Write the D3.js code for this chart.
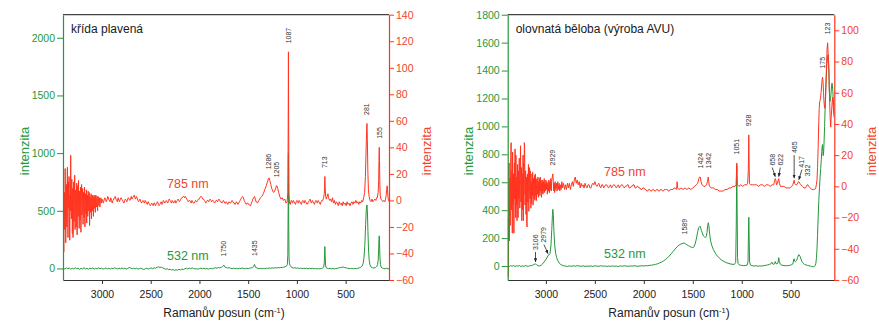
<!DOCTYPE html>
<html>
<head>
<meta charset="utf-8">
<script src="https://cdn.jsdelivr.net/npm/d3@7/dist/d3.min.js"></script>
<style>
  html, body { margin: 0; padding: 0; background: #fff; }
  svg { display: block; font-family: "Liberation Sans", Arial, sans-serif; }
</style>
</head>
<body>
<svg id="chart" width="879" height="323"></svg>
<script>
// ---------- Raman spectra: [wavenumber (cm-1), intensity] ----------

// křída plavená, 785 nm excitation (right axis)
const kridaRed = [
  [3396,-8],[3392,-39],[3389,-12],[3385,6],[3382,-22],[3378,24],[3375,2],[3372,-32],[3368,-5],[3365,12],
  [3361,-20],[3358,8],[3355,25],[3352,-9],[3349,-28],[3345,14],[3341,-6],[3338,18],[3334,-12],[3331,-30],
  [3327,4],[3324,-8],[3321,34],[3317,-2],[3314,-14],[3310,16],[3307,6],[3304,-25],[3300,9],[3297,-28],
  [3293,-4],[3290,14],[3286,-16],[3283,3],[3280,19],[3276,-22],[3272,0],[3269,8],[3265,-20],[3262,-6],
  [3259,13],[3255,-26],[3251,4],[3248,11],[3244,-12],[3241,15],[3237,-3],[3234,-21],[3230,7],[3226,-15],
  [3223,-2],[3220,10],[3216,-24],[3212,5],[3209,12],[3205,-11],[3201,0],[3198,9],[3194,-18],[3190,6],
  [3186,-4],[3183,-13],[3179,10],[3175,-20],[3171,1],[3168,5],[3164,-10],[3160,8],[3157,-17],[3153,-3],
  [3150,4],[3146,-12],[3142,7],[3138,-2],[3135,-8],[3131,6],[3127,-19],[3123,3],[3119,-4],[3116,-9],
  [3112,5],[3108,-14],[3104,1],[3100,4],[3096,-8],[3092,3],[3088,-12],[3084,0],[3080,4],[3076,-6],
  [3072,3],[3068,-9],[3063,4],[3059,-1],[3055,-5],[3050,3],[3045,-8],[3040,3],[3035,-1],[3031,-4],
  [3026,2],[3021,-5],[3016,1],[3011,2],[3006,-2],
  [3000,1],[2992,-1],[2985,-2],[2977,1],[2970,2],[2962,0],[2955,-1],[2947,1],[2940,3],[2932,1],
  [2925,0],[2917,-1],[2910,2],[2902,0],[2895,-2],[2887,0],[2880,1],[2872,2],[2865,3],[2857,1],
  [2850,0],[2842,-1],[2835,2],[2827,0],[2820,-1],[2812,1],[2805,2],[2797,1],[2790,0],[2782,-1],
  [2775,-2],[2767,0],[2760,1],[2752,0],[2745,-1],[2737,1],[2730,2],[2722,1],[2715,0],[2707,1],
  [2700,3],[2692,1],[2685,2],[2677,3],[2670,4],[2662,2],[2655,1],[2647,3],[2640,2],[2632,0],
  [2625,-1],[2617,0],[2610,1],[2602,-1],[2595,-2],[2587,-1],[2580,0],[2572,-1],[2565,-2],[2557,0],
  [2550,-1],[2542,-2],[2535,-3],[2527,-1],[2520,-2],[2512,-3],[2505,-4],[2497,-3],[2490,-2],[2482,-3],
  [2475,-4],[2467,-2],[2460,-2],[2452,-4],[2445,-3],[2437,-2],[2430,-1],[2422,-3],[2415,-4],[2407,-3],
  [2400,-2],[2392,-1],[2385,-3],[2377,-2],[2370,0],[2362,-1],[2355,-2],[2347,-1],[2340,0],[2332,-1],
  [2325,-2],[2317,0],[2310,1],[2302,0],[2295,-1],[2287,-2],[2280,0],[2272,-1],[2265,-2],[2257,-1],
  [2250,0],[2242,-2],[2235,-1],[2227,0],[2220,1],[2212,0],[2205,-1],[2197,0],[2190,1],[2182,2],
  [2175,2],[2167,3],[2160,3],[2152,2],[2145,3],[2137,2],[2130,1],[2122,0],[2115,-1],[2107,0],
  [2100,0],[2092,-1],[2085,-2],[2077,0],[2070,-1],[2062,-2],[2055,-2],[2047,-1],[2040,0],[2032,-1],
  [2025,-1],[2017,0],[2010,1],[2002,1],[1995,2],[1987,3],[1980,3],[1972,2],[1965,1],[1957,1],
  [1950,0],[1942,-1],[1935,-2],[1927,-1],[1920,0],[1912,0],[1905,-1],[1897,0],[1890,1],[1882,0],
  [1875,-1],[1867,0],[1860,0],[1852,-1],[1845,-2],[1837,-1],[1830,0],[1822,0],[1815,-1],[1807,0],
  [1800,1],[1792,0],[1785,-1],[1777,-1],[1770,-2],[1762,-1],[1755,0],[1747,-1],[1740,-2],[1732,-2],
  [1725,-1],[1717,-2],[1710,-3],[1702,-2],[1695,-1],[1687,-2],[1680,-2],[1672,-1],[1665,0],[1657,-1],
  [1650,-2],[1642,-2],[1635,-3],[1627,-2],[1620,-1],[1612,-2],[1605,-3],[1597,-2],[1590,-1],[1582,0],
  [1575,1],[1567,2],[1560,3],[1548,2],[1541,0],[1535,-1],[1527,-2],[1520,-3],[1512,-2],[1505,-2],
  [1497,-3],[1490,-3],[1482,-4],[1475,-4],[1467,-2],[1460,-1],[1452,1],[1445,2],[1435,3],[1427,1],
  [1420,-1],[1412,-1],[1405,-2],[1397,-1],[1390,0],[1382,1],[1375,2],
  [1360,3],[1345,5],[1330,8],[1315,11],[1302,14],[1294,16],[1286,17],[1278,15],[1268,12],[1258,9],
  [1248,7],[1238,6],[1228,7],[1218,9],[1211,11],[1205,11],[1197,9],[1187,6],[1176,3],[1163,1],
  [1150,2],[1138,0],[1125,1],[1112,-2],[1100,-1],[1093,6],[1090,45],[1087,112],[1084,45],[1081,6],
  [1076,-2],[1068,-3],[1058,0],[1051,-1],[1045,-2],[1037,0],[1030,-1],[1022,-2],[1015,-3],[1007,-1],
  [1000,0],[992,-1],[985,-2],[977,0],[970,-1],[962,-2],[955,-3],[947,-1],[940,0],[932,-1],
  [925,-2],[917,0],[910,-1],[902,-2],[895,-3],[887,-2],[880,-1],[872,0],[865,1],[857,-1],
  [850,-2],[842,0],[835,-1],[827,-2],[820,-3],[812,-1],[805,0],[797,-1],[790,-2],[782,0],
  [775,-1],[767,-2],[760,-3],[752,-1],[745,0],[735,0],[726,2],[719,5],[716,10],[713,18],
  [710,10],[705,3],[698,1],[690,3],[682,5],[675,2],[665,0],[655,1],[645,-1],[635,2],
  [625,-2],[615,0],[605,-3],[595,-1],[585,-2],[575,-4],[565,-1],[555,-3],[545,-2],[535,-4],
  [525,-1],[515,-3],[505,-2],[495,-4],[485,-1],[475,-3],[465,-2],[455,-4],[445,-2],[435,-1],
  [425,-3],[415,-1],[405,-2],[395,0],[385,-2],[375,-1],[365,-3],[355,-1],[345,-2],[335,0],
  [325,-1],[315,2],[305,6],[297,18],[290,38],[284,54],[281,58],[277,45],[272,22],[266,8],
  [259,3],[250,0],[240,-1],[230,1],[220,-1],[210,0],[200,1],[190,0],[182,2],[175,2],
  [166,6],[161,15],[158,30],[155,40],[152,30],[149,12],[145,4],[138,1],[128,0],[118,-1],
  [108,0],[98,-1],[90,1],[84,4],[79,8],[74,11],[70,8],[65,2],[60,0],[55,-1]
];

// křída plavená, 532 nm excitation (left axis)
const kridaGreen = [
  [3396,0],[3380,-5],[3365,6],[3350,-3],[3335,4],[3320,-6],[3305,2],[3290,-4],[3275,5],[3260,-2],
  [3245,3],[3230,-7],[3215,1],[3200,-3],[3185,6],[3170,-4],[3155,2],[3140,-6],[3125,3],[3110,-2],
  [3095,4],[3080,-5],[3065,1],[3050,-4],[3035,5],[3020,-2],[3005,3],[2990,-6],[2975,-1],[2960,4],
  [2945,-3],[2930,2],[2915,-5],[2900,3],[2885,-2],[2870,6],[2855,0],[2840,-4],[2825,3],[2810,-3],
  [2795,5],[2780,-2],[2765,2],[2750,-5],[2735,1],[2720,8],[2705,4],[2690,-2],[2675,3],[2660,-4],
  [2645,2],[2630,-6],[2615,-1],[2600,3],[2585,-4],[2570,-8],[2555,-3],[2540,2],[2525,-5],[2510,0],
  [2495,4],[2480,-2],[2465,6],[2450,2],[2435,10],[2420,14],[2405,8],[2390,12],[2375,4],[2360,-2],
  [2345,-6],[2330,-3],[2315,-10],[2300,-7],[2285,-14],[2270,-9],[2255,-16],[2240,-11],[2225,-15],[2210,-8],
  [2195,-12],[2180,-5],[2165,-9],[2150,-3],[2135,2],[2120,-4],[2105,3],[2090,-2],[2075,5],[2060,0],
  [2045,-5],[2030,-1],[2015,-6],[2000,-2],[1985,3],[1970,-3],[1955,2],[1940,-4],[1925,1],[1910,-6],
  [1895,-2],[1880,2],[1865,-3],[1850,4],[1835,6],[1820,2],[1805,8],[1790,5],[1775,10],[1765,14],
  [1756,22],[1750,30],[1744,20],[1735,10],[1725,8],[1710,4],[1695,7],[1680,2],[1665,-2],[1650,3],
  [1635,-3],[1620,1],[1605,-4],[1590,2],[1575,-1],[1560,4],[1545,0],[1530,-3],[1515,2],[1500,-2],
  [1485,3],[1470,5],[1455,8],[1444,15],[1438,28],[1435,35],[1430,22],[1422,8],[1405,3],[1390,-2],
  [1375,2],[1360,-3],[1345,1],[1330,-2],[1315,3],[1300,0],[1285,4],[1270,2],[1255,5],[1240,3],
  [1225,6],[1210,4],[1195,8],[1180,5],[1165,9],[1150,7],[1135,12],[1120,15],[1108,20],[1098,35],
  [1093,120],[1090,500],[1087,1000],[1084,400],[1081,100],[1077,45],[1070,25],[1060,14],[1050,8],[1035,4],
  [1020,6],[1005,2],[990,4],[975,0],[960,3],[945,-2],[930,2],[915,-1],[900,3],[885,-3],
  [870,1],[855,-2],[840,2],[825,-3],[810,0],[795,-4],[780,-1],[765,-3],[750,0],[735,4],
  [725,12],[719,50],[716,130],[713,190],[710,110],[706,30],[700,8],[690,2],[675,-2],[660,1],
  [645,-3],[630,0],[615,-4],[600,-1],[585,2],[570,5],[555,8],[540,10],[525,12],[510,8],
  [495,5],[480,2],[465,0],[450,-2],[435,2],[420,-3],[405,0],[390,-2],[375,2],[360,5],
  [350,8],[340,12],[330,22],[320,45],[312,90],[303,200],[295,380],[288,510],[281,551],[276,480],
  [271,320],[265,160],[258,70],[250,30],[240,14],[225,6],[210,4],[195,8],[186,12],[180,18],
  [172,35],[166,70],[161,160],[158,250],[155,283],[152,220],[148,100],[143,35],[136,12],[125,4],
  [110,0],[95,-3],[80,2],[65,-2],[55,-5]
];

// olovnatá běloba, 785 nm excitation (right axis)
const olovoRed = [
  [3388,-20],[3385,-58],[3382,-30],[3379,-6],[3376,15],[3373,-35],[3370,-8],[3367,5],[3364,-25],[3361,3],
  [3358,20],[3355,28],[3352,-15],[3349,-2],[3346,10],[3343,-30],[3340,22],[3337,4],[3334,-12],[3331,8],
  [3327,-30],[3324,-10],[3321,15],[3318,-8],[3315,24],[3312,2],[3309,-20],[3306,20],[3302,-12],[3299,6],
  [3295,-22],[3292,-3],[3289,14],[3286,-18],[3283,-20],[3279,10],[3276,-8],[3272,18],[3269,-4],[3266,-14],
  [3262,6],[3259,26],[3255,-10],[3252,2],[3249,12],[3246,-22],[3242,8],[3239,-15],[3236,0],[3233,20],
  [3230,-22],[3227,15],[3224,-5],[3220,28],[3217,24],[3213,-12],[3210,3],[3207,10],[3203,-18],[3199,6],
  [3196,-24],[3192,-26],[3189,8],[3185,-10],[3182,2],[3178,14],[3174,-16],[3171,4],[3167,12],[3163,-8],
  [3160,10],[3156,-3],[3153,-14],[3150,3],[3146,-11],[3142,8],[3138,-6],[3135,9],[3131,-12],[3127,5],
  [3123,-2],[3120,-8],[3116,7],[3112,-9],[3108,8],[3104,-6],[3100,4],[3096,-9],[3092,5],[3088,-1],
  [3085,-5],[3081,6],[3077,-7],[3073,3],[3069,-4],[3065,5],[3061,-6],[3057,6],[3053,-3],[3049,4],
  [3045,-7],[3041,2],[3037,-4],[3033,4],[3029,-5],[3025,3],[3021,-3],[3017,5],[3013,-4],[3009,2],
  [3005,-3],[3000,4],[2995,-2],[2990,3],[2985,-5],[2980,2],[2975,-3],[2970,4],[2965,-4],[2960,3],
  [2955,-2],[2950,5],[2945,-3],[2940,4],[2935,6],[2929,8],[2924,3],[2920,-3],[2915,2],[2910,-4],
  [2905,3],[2900,-2],[2893,2],[2886,-3],[2879,3],[2872,-2],[2865,2],[2858,-3],[2851,1],[2844,-2],
  [2837,3],[2830,-1],[2820,2],[2810,-2],[2800,1],[2790,-2],[2780,2],[2770,-1],[2760,2],[2750,-2],
  [2740,1],[2730,3],[2720,0],[2710,4],[2700,6],[2690,2],[2680,4],[2670,1],[2660,3],[2650,-1],
  [2640,2],[2630,0],[2620,1],[2610,-1],[2600,2],[2590,0],[2580,-1],[2570,1],[2560,1],[2550,-1],
  [2540,-1],[2530,1],[2520,2],[2510,1],[2500,3],[2490,1],[2480,0],[2470,1],[2460,2],[2450,0],
  [2440,-1],[2430,1],[2420,1],[2410,-1],[2400,0],[2390,1],[2380,1],[2370,0],[2360,-1],[2350,0],
  [2340,1],[2330,-1],[2320,0],[2310,1],[2300,1],[2290,0],[2280,-1],[2270,0],[2260,1],[2250,-1],
  [2240,0],[2230,1],[2220,1],[2210,0],[2200,-1],[2190,0],[2180,0],[2170,1],[2160,1],[2150,-1],
  [2140,-1],[2130,0],[2120,0],[2110,1],[2100,1],[2090,-1],[2080,-1],[2070,0],[2060,0],[2050,-1],
  [2040,-1],[2030,-2],[2020,-2],[2010,-1],[2000,-1],[1990,-2],[1980,-2],[1970,-3],[1960,-3],[1950,-2],
  [1940,-2],[1930,-3],[1920,-3],[1910,-2],[1900,-2],[1890,-3],[1880,-3],[1870,-2],[1860,-2],[1850,-3],
  [1840,-3],[1830,-2],[1820,-2],[1810,-3],[1800,-3],[1790,-2],[1780,-2],[1770,-2],[1760,-2],[1750,-3],
  [1740,-3],[1730,-2],[1720,-2],[1710,-2],[1700,-2],[1690,-1],[1680,-1],[1665,-2],[1660,3],[1655,-1],
  [1640,-2],[1620,-1],[1600,-2],[1580,-1],[1560,-2],[1540,-1],[1520,-2],[1500,-1],[1480,0],[1465,1],
  [1450,2],[1438,5],[1430,6],[1424,6],[1416,3],[1405,1],[1390,0],[1375,0],[1360,1],[1350,3],
  [1345,5],[1342,6],[1337,3],[1330,0],[1310,-1],[1290,-1],[1270,-2],[1250,-2],[1230,-3],[1210,-3],
  [1190,-3],[1170,-2],[1150,-2],[1130,-1],[1110,-1],[1090,0],[1070,0],[1058,1],[1054,8],[1051,15],
  [1048,6],[1044,1],[1030,0],[1010,1],[990,0],[970,1],[950,1],[940,2],[933,10],[928,33],
  [925,15],[921,2],[910,1],[890,1],[870,1],[850,1],[830,0],[810,1],[790,1],[770,0],
  [750,1],[730,1],[710,0],[690,1],[675,1],[666,3],[658,5],[652,4],[645,1],[635,2],
  [628,4],[622,5],[616,2],[605,0],[590,0],[570,0],[550,-1],[530,-1],[510,-1],[490,0],
  [478,1],[470,3],[465,4],[460,2],[450,1],[440,1],[430,2],[422,3],[417,3],[408,2],
  [395,1],[380,0],[365,-1],[350,-1],[340,0],[332,1],[325,1],[315,0],[300,-1],[285,-2],
  [270,-2],[255,-2],[245,-1],[238,1],[232,4],[226,12],[220,25],[214,40],[209,50],[205,54],
  [200,55],[195,57],[190,60],[184,65],[178,69],[175,70],[170,67],[165,60],[160,54],[155,51],
  [150,50],[145,55],[140,65],[134,78],[129,88],[123,92],[117,84],[110,74],[104,58],[98,45],
  [92,38],[87,44],[82,49],[77,54],[72,57],[67,52],[62,47],[56,44]
];

// olovnatá běloba, 532 nm excitation (left axis)
const olovoGreen = [
  [3390,0],[3375,-4],[3360,3],[3345,-2],[3330,4],[3315,-3],[3300,2],[3285,-1],[3270,3],[3255,-3],
  [3240,1],[3225,-2],[3210,3],[3195,0],[3180,-2],[3165,3],[3150,2],[3135,6],[3120,12],[3106,15],
  [3095,10],[3080,2],[3065,0],[3050,5],[3035,15],[3020,28],[3005,42],[2990,58],[2979,75],[2968,80],
  [2958,90],[2948,150],[2940,260],[2933,370],[2929,406],[2924,360],[2918,250],[2910,150],[2900,90],[2890,60],
  [2878,38],[2865,22],[2850,12],[2835,6],[2820,2],[2800,0],[2780,-3],[2760,1],[2740,-2],[2720,2],
  [2700,-1],[2680,3],[2660,0],[2640,-2],[2620,2],[2600,-3],[2580,0],[2560,-2],[2540,1],[2520,-3],
  [2500,2],[2480,0],[2460,-2],[2440,2],[2420,-1],[2400,1],[2380,-3],[2360,0],[2340,-2],[2320,1],
  [2300,-2],[2280,0],[2260,-3],[2240,1],[2220,-1],[2200,2],[2180,0],[2160,-2],[2140,1],[2120,-1],
  [2100,2],[2080,0],[2060,-2],[2040,1],[2020,2],[2000,0],[1980,3],[1960,2],[1940,5],[1920,6],
  [1900,9],[1880,12],[1860,16],[1840,22],[1820,28],[1800,36],[1780,46],[1760,58],[1740,72],[1720,88],
  [1700,105],[1680,122],[1660,138],[1640,150],[1620,158],[1600,163],[1589,165],[1575,160],[1560,152],[1545,146],
  [1530,140],[1515,135],[1500,132],[1488,138],[1475,160],[1462,200],[1450,245],[1440,275],[1430,283],[1424,285],
  [1412,255],[1400,230],[1390,215],[1380,208],[1370,205],[1362,212],[1355,240],[1348,290],[1342,310],[1336,290],
  [1328,230],[1318,180],[1305,145],[1290,118],[1270,92],[1250,72],[1230,58],[1210,45],[1190,36],[1170,28],
  [1150,22],[1130,18],[1110,14],[1090,12],[1075,12],[1062,25],[1056,300],[1051,720],[1047,400],[1043,60],
  [1037,18],[1025,8],[1005,5],[985,3],[965,4],[945,6],[936,30],[932,200],[928,349],[924,180],
  [920,30],[912,8],[895,3],[875,0],[855,2],[835,-1],[815,1],[795,0],[775,3],[755,5],
  [735,8],[715,12],[700,18],[692,28],[685,15],[672,12],[665,20],[658,32],[652,18],[640,15],
  [630,22],[622,60],[616,30],[605,12],[590,6],[570,3],[550,2],[530,3],[510,5],[490,10],
  [478,15],[470,45],[465,52],[460,35],[452,30],[440,40],[430,60],[420,80],[417,82],[405,70],
  [395,50],[385,32],[372,20],[360,12],[345,8],[330,5],[315,2],[300,0],[285,-3],[270,-5],
  [258,-3],[250,5],[243,20],[237,60],[232,120],[226,220],[220,350],[213,470],[206,560],[200,640],
  [194,700],[188,760],[183,820],[178,860],[175,870],[172,820],[169,790],[165,800],[160,880],[154,1000],
  [148,1150],[142,1280],[136,1380],[130,1450],[124,1490],[118,1513],[114,1480],[110,1380],[106,1260],[102,1190],
  [98,1180],[93,1200],[88,1240],[83,1290],[78,1310],[74,1290],[70,1250],[66,1200],[62,1150],[58,1120],
  [55,1110]
];

// peak annotations: [wavenumber, curve it marks ("r" = 785 nm, "g" = 532 nm)]
const kridaPeaks = [[1087,"r"],[1286,"r"],[1205,"r"],[713,"r"],[281,"r"],[155,"r"],[1750,"g"],[1435,"g"]];
const olovoPeaks = [[2929,"r"],[3106,"g"],[2979,"g"],[1589,"g"],[1424,"r"],[1342,"r"],[1051,"r"],[928,"r"],
                    [658,"r"],[622,"r"],[465,"r"],[417,"r"],[332,"r"],[175,"r"],[123,"r"]];

// axis ticks
const xTicks = [3000, 2500, 2000, 1500, 1000, 500];
const kridaGreenTicks = [0, 500, 1000, 1500, 2000];
const kridaRedTicks = [-60, -40, -20, 0, 20, 40, 60, 80, 100, 120, 140];
const olovoGreenTicks = [0, 200, 400, 600, 800, 1000, 1200, 1400, 1600, 1800];
const olovoRedTicks = [-60, -40, -20, 0, 20, 40, 60, 80, 100];

// ---------- drawing ----------
const RED = "#ff3420", GREEN = "#23973a", RED_TXT = "#f2432b", GREEN_TXT = "#27983b", INK = "#333";
const FONT = "Liberation Sans, Arial, sans-serif";
const fmt = d3.format("d");
const svg = d3.select("#chart");

svg.append("defs").append("marker")
  .attr("id", "arrowhead").attr("viewBox", "0 0 10 10")
  .attr("refX", 9).attr("refY", 5)
  .attr("markerWidth", 5).attr("markerHeight", 5)
  .attr("orient", "auto-start-reverse")
  .append("path").attr("d", "M0,1 L10,5 L0,9 Z").attr("fill", "#222");

function drawPanel(p) {
  const g = svg.append("g");
  const x = d3.scaleLinear().domain(p.xDomain).range([p.left, p.right]);
  const yG = d3.scaleLinear().domain(p.gDomain).range([p.bottom, p.top]);
  const yR = d3.scaleLinear().domain(p.rDomain).range([p.bottom, p.top]);

  svg.select("defs").append("clipPath").attr("id", "clip-" + p.id)
    .append("rect").attr("x", p.left).attr("y", p.top)
    .attr("width", p.right - p.left).attr("height", p.bottom - p.top);

  // top frame line
  g.append("line").attr("x1", p.left).attr("x2", p.right)
    .attr("y1", p.top).attr("y2", p.top)
    .attr("stroke", "#444").attr("stroke-width", 1.2);

  // spectra
  const plot = g.append("g").attr("clip-path", `url(#clip-${p.id})`);
  plot.append("path").datum(p.green)
    .attr("d", d3.line().x(d => x(d[0])).y(d => yG(d[1])))
    .attr("fill", "none").attr("stroke", GREEN).attr("stroke-width", 1)
    .attr("stroke-linejoin", "round");
  plot.append("path").datum(p.red)
    .attr("d", d3.line().x(d => x(d[0])).y(d => yR(d[1])))
    .attr("fill", "none").attr("stroke", RED).attr("stroke-width", 1)
    .attr("stroke-linejoin", "round");

  // bottom axis
  const ax = g.append("g").attr("transform", `translate(0,${p.bottom})`)
    .call(d3.axisBottom(x).tickValues(xTicks).tickFormat(fmt)
      .tickSize(4).tickSizeOuter(0).tickPadding(6.5));
  ax.select(".domain").attr("stroke", "#333").attr("stroke-width", 1.2);
  ax.selectAll(".tick line").attr("stroke", "#333");
  ax.selectAll(".tick text").attr("fill", "#222").attr("font-size", 10.5).attr("font-family", FONT);

  // left (532 nm) axis
  const ag = g.append("g").attr("transform", `translate(${p.left},0)`)
    .call(d3.axisLeft(yG).tickValues(p.gTicks).tickFormat(fmt)
      .tickSize(6).tickSizeOuter(0).tickPadding(2));
  ag.select(".domain").attr("stroke", GREEN).attr("stroke-width", 1.2);
  ag.selectAll(".tick line").attr("stroke", GREEN);
  ag.selectAll(".tick text").attr("fill", GREEN_TXT).attr("font-size", 10.5).attr("font-family", FONT);

  // right (785 nm) axis
  const ar = g.append("g").attr("transform", `translate(${p.right},0)`)
    .call(d3.axisRight(yR).tickValues(p.rTicks).tickFormat(fmt)
      .tickSize(5).tickSizeOuter(0).tickPadding(2));
  ar.select(".domain").attr("stroke", RED).attr("stroke-width", 1.2);
  ar.selectAll(".tick line").attr("stroke", RED);
  ar.selectAll(".tick text").attr("fill", RED_TXT).attr("font-size", 10.5).attr("font-family", FONT);

  // axis titles
  const yTitle = (tx, color) => g.append("text")
    .attr("transform", `translate(${tx},151) rotate(-90)`)
    .attr("text-anchor", "middle").attr("dy", "0.35em")
    .attr("font-size", 13).attr("fill", color).text("intenzita");
  yTitle(p.left - 39, GREEN_TXT);
  yTitle(p.right + 37, RED_TXT);

  const xt = g.append("text").attr("x", (p.left + p.right) / 2 - 2).attr("y", 317)
    .attr("text-anchor", "middle").attr("font-size", 12).attr("fill", "#222");
  xt.append("tspan").text("Ramanův posun (cm");
  xt.append("tspan").attr("dy", -4.5).attr("font-size", 7.5).text("-1");
  xt.append("tspan").attr("dy", 4.5).text(")");

  // sample name and excitation labels
  g.append("text").attr("x", p.left + 8).attr("y", 33)
    .attr("font-size", 12).attr("fill", "#1a1a1a").text(p.title);
  g.append("text").attr("x", p.lineLabelX).attr("y", p.redLabelY)
    .attr("font-size", 12.5).attr("fill", RED_TXT).text("785 nm");
  g.append("text").attr("x", p.lineLabelX).attr("y", p.greenLabelY)
    .attr("font-size", 12.5).attr("fill", GREEN_TXT).text("532 nm");

  // peak labels, set just above the curve maximum at each band
  p.peaks.forEach(([wn, which]) => {
    const series = which === "r" ? p.red : p.green;
    const yS = which === "r" ? yR : yG;
    const near = series.filter(d => Math.abs(d[0] - wn) <= 6);
    const top = d3.max(near, d => d[1]);
    const px = x(wn), py = yS(top);
    const arrow = p.arrows[wn];
    let tx = px, ty = py - 8.5;
    if (arrow) {
      const tailX = px + arrow.dx, tailY = py - 2 - arrow.len;
      g.append("line").attr("x1", tailX).attr("y1", tailY)
        .attr("x2", px).attr("y2", py - 2)
        .attr("stroke", "#222").attr("stroke-width", 0.8)
        .attr("marker-end", "url(#arrowhead)");
      tx = tailX; ty = tailY - 2;
    }
    g.append("text")
      .attr("transform", `translate(${tx},${ty}) rotate(-90)`)
      .attr("dy", "0.35em").attr("font-size", 7).attr("fill", INK)
      .text(wn);
  });
}

drawPanel({
  id: "krida", left: 63, right: 389, top: 14.7, bottom: 280,
  xDomain: [3400, 55], gDomain: [-100, 2200], rDomain: [-60, 140],
  gTicks: kridaGreenTicks, rTicks: kridaRedTicks,
  green: kridaGreen, red: kridaRed, peaks: kridaPeaks, arrows: {},
  title: "křída plavená", lineLabelX: 167, redLabelY: 188, greenLabelY: 260
});

drawPanel({
  id: "olovo", left: 507.7, right: 834.3, top: 14.7, bottom: 280,
  xDomain: [3390, 55], gDomain: [-100, 1800], rDomain: [-60, 110],
  gTicks: olovoGreenTicks, rTicks: olovoRedTicks,
  green: olovoGreen, red: olovoRed, peaks: olovoPeaks,
  arrows: {
    3106: { dx: 0, len: 10 }, 2979: { dx: -4, len: 9 },
    658: { dx: -3, len: 9 }, 622: { dx: 1.5, len: 9 },
    465: { dx: 0, len: 23 }, 417: { dx: 3, len: 10 }
  },
  title: "olovnatá běloba (výroba AVU)", lineLabelX: 604, redLabelY: 176, greenLabelY: 258
});
</script>
</body>
</html>
